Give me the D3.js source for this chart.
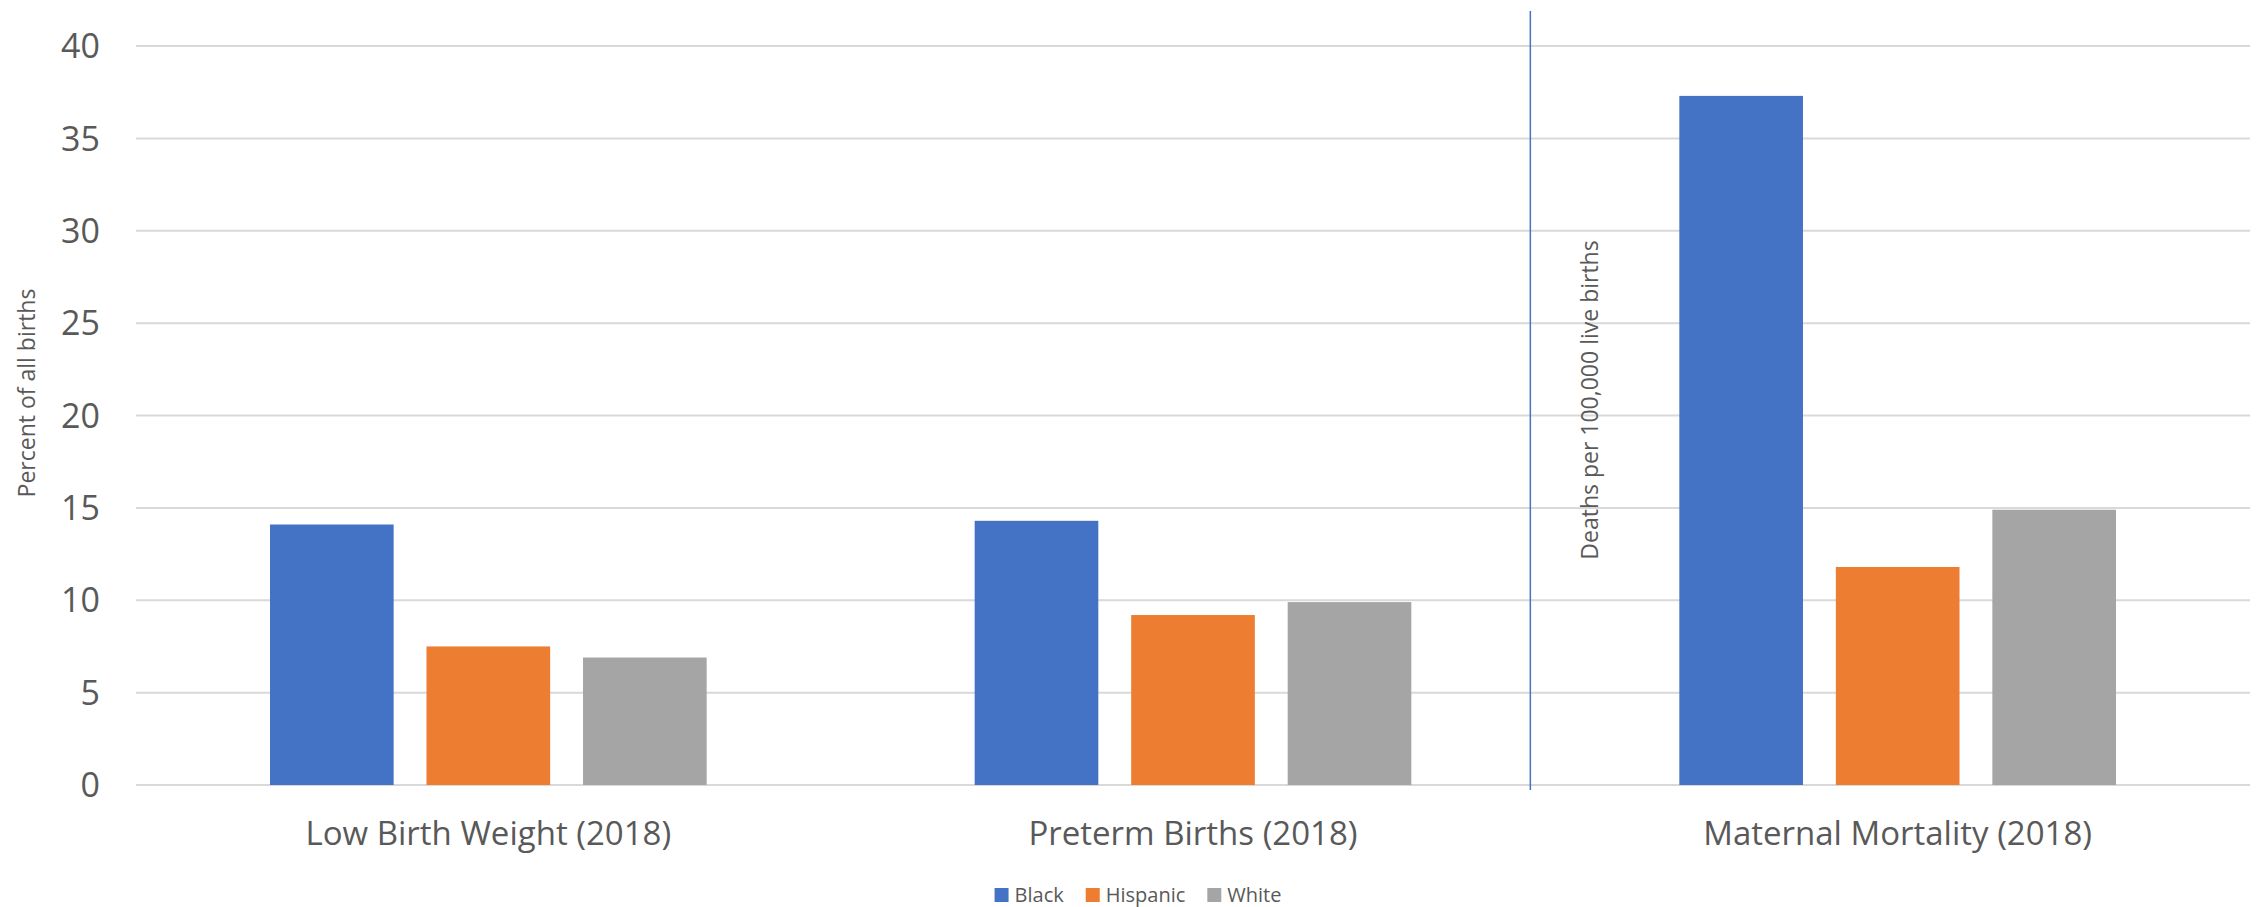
<!DOCTYPE html>
<html>
<head>
<meta charset="utf-8">
<script src="https://cdnjs.cloudflare.com/ajax/libs/d3/7.8.5/d3.min.js"></script>
<style>
  html, body { margin: 0; padding: 0; background: #fff; }
  svg { display: block; font-family: "Open Sans", "Noto Sans", sans-serif; }
</style>
</head>
<body>
<svg id="chart" width="2260" height="907"></svg>
<script>
const categories = ["Low Birth Weight (2018)", "Preterm Births (2018)", "Maternal Mortality (2018)"];
const seriesNames = ["Black", "Hispanic", "White"];
const black = [14.1, 14.3, 37.3];
const hispanic = [7.5, 9.2, 11.8];
const white = [6.9, 9.9, 14.9];
const yTicks = [0, 5, 10, 15, 20, 25, 30, 35, 40];
const colors = ["#4472C4", "#ED7D31", "#A5A5A5"];
const leftAxisTitle = "Percent of all births";
const rightAxisTitle = "Deaths per 100,000 live births";

const seriesValues = [black, hispanic, white];
const rows = categories.map((c, i) => ({
  category: c,
  values: seriesNames.map((s, j) => ({ series: s, value: seriesValues[j][i] }))
}));

const svg = d3.select("#chart");
const plotLeft = 136, plotRight = 2250, plotTop = 46, plotBottom = 785;

const x0 = d3.scaleBand().domain(categories).range([plotLeft, plotRight]).padding(0);
const groupPad = 134;
const x1 = d3.scaleBand().domain(seriesNames)
  .range([groupPad, x0.bandwidth() - groupPad]).paddingInner(0.21).paddingOuter(0);
const y = d3.scaleLinear().domain([0, 40]).range([plotBottom, plotTop]);
const color = d3.scaleOrdinal().domain(seriesNames).range(colors);

// gridlines
svg.append("g").selectAll("line").data(yTicks).join("line")
  .attr("x1", plotLeft).attr("x2", plotRight)
  .attr("y1", d => y(d)).attr("y2", d => y(d))
  .attr("stroke", "#d9d9d9").attr("stroke-width", 2);

// y tick labels
svg.append("g").selectAll("text").data(yTicks).join("text")
  .attr("x", 100).attr("y", d => y(d))
  .attr("dy", "0.36em")
  .attr("text-anchor", "end")
  .attr("fill", "#595959")
  .style("font-size", "34px")
  .text(d => d);

// bars
const groups = svg.append("g").selectAll("g").data(rows).join("g")
  .attr("transform", d => `translate(${x0(d.category)},0)`);
groups.selectAll("rect").data(d => d.values).join("rect")
  .attr("x", d => x1(d.series))
  .attr("width", x1.bandwidth())
  .attr("y", d => y(d.value))
  .attr("height", d => y(0) - y(d.value))
  .attr("fill", d => color(d.series));

// category labels
svg.append("g").selectAll("text").data(categories).join("text")
  .attr("x", d => x0(d) + x0.bandwidth() / 2)
  .attr("y", 845)
  .attr("text-anchor", "middle")
  .attr("fill", "#595959")
  .style("font-size", "33px")
  .text(d => d);

// divider line between percent metrics and mortality
const dividerX = x0(categories[2]) - 15;
svg.append("line")
  .attr("x1", dividerX).attr("x2", dividerX)
  .attr("y1", 11).attr("y2", 790)
  .attr("stroke", "#4472C4").attr("stroke-width", 1.5);

// axis titles
svg.append("text")
  .attr("transform", `translate(27,393) rotate(-90)`)
  .attr("text-anchor", "middle")
  .attr("dy", "0.35em")
  .attr("fill", "#595959")
  .style("font-size", "23px")
  .text(leftAxisTitle);

svg.append("text")
  .attr("transform", `translate(${dividerX + 60},400) rotate(-90)`)
  .attr("text-anchor", "middle")
  .attr("dy", "0.35em")
  .attr("fill", "#595959")
  .style("font-size", "23px")
  .text(rightAxisTitle);

// legend
const legend = svg.append("g");
const items = legend.selectAll("g").data(seriesNames).join("g");
items.append("rect").attr("width", 14).attr("height", 14).attr("y", 888)
  .attr("fill", d => color(d));
items.append("text").attr("x", 20).attr("y", 902)
  .attr("fill", "#595959").style("font-size", "20px").text(d => d);
const widths = [];
items.each(function () {
  widths.push(20 + this.querySelector("text").getComputedTextLength());
});
const gap = 22;
const total = d3.sum(widths) + gap * (widths.length - 1);
let start = 1138 - total / 2;
items.attr("transform", (d, i) => {
  const t = `translate(${start},0)`;
  start += widths[i] + gap;
  return t;
});
</script>
</body>
</html>
